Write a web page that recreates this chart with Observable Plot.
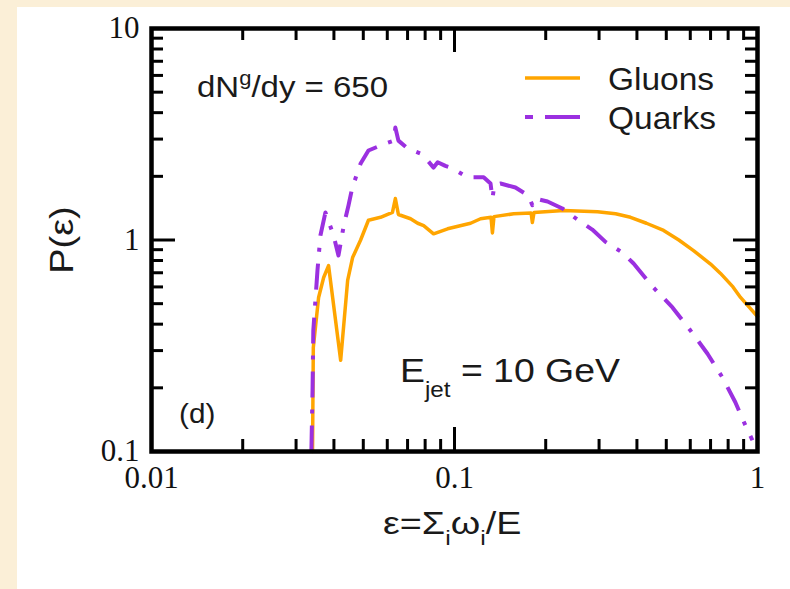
<!DOCTYPE html>
<html>
<head>
<meta charset="utf-8">
<script src="https://cdn.jsdelivr.net/npm/d3@7"></script>
<script src="https://cdn.jsdelivr.net/npm/@observablehq/plot@0.6"></script>
<style>
  html, body { margin: 0; padding: 0; background: #fbefd7; width: 790px; height: 589px; overflow: hidden; }
  #chart { position: absolute; left: 17px; top: 7px; background: #ffffff; }
</style>
</head>
<body>
<div id="chart"></div>
<script>
// ---- data ----
const gluonEps = [0.0340, 0.0342, 0.0356, 0.0370, 0.0384, 0.0421, 0.0444, 0.0461, 0.0490, 0.0520, 0.0570, 0.0624, 0.0638, 0.0653, 0.0716, 0.0756, 0.0791, 0.0853, 0.0949, 0.1130, 0.1219, 0.1320, 0.1334, 0.1350, 0.1568, 0.1790, 0.1807, 0.1830, 0.2291, 0.2965, 0.340, 0.381, 0.430, 0.490, 0.550, 0.615, 0.700, 0.755, 0.830, 0.879, 0.940, 1.0];
const gluonP   = [0.100, 0.310, 0.535, 0.665, 0.757, 0.270, 0.644, 0.826, 1.00, 1.24, 1.28, 1.35, 1.57, 1.32, 1.26, 1.20, 1.17, 1.07, 1.13, 1.20, 1.26, 1.28, 1.08, 1.29, 1.33, 1.34, 1.21, 1.35, 1.38, 1.36, 1.33, 1.28, 1.20, 1.11, 1.00, 0.891, 0.770, 0.695, 0.600, 0.535, 0.480, 0.435];

const quarkEps = [0.0337, 0.0340, 0.0342, 0.0353, 0.0361, 0.0375, 0.0399, 0.0414, 0.0431, 0.0447, 0.0460, 0.0490, 0.0520, 0.0592, 0.0630, 0.0638, 0.0653, 0.0700, 0.0783, 0.0853, 0.0880, 0.0933, 0.0986, 0.1104, 0.1248, 0.1315, 0.1334, 0.1354, 0.1419, 0.1589, 0.1754, 0.1807, 0.1848, 0.2028, 0.2270, 0.2564, 0.2849, 0.315, 0.358, 0.390, 0.450, 0.524, 0.601, 0.684, 0.766, 0.845, 0.912, 0.962];
const quarkP   = [0.100, 0.194, 0.373, 0.718, 1.05, 1.35, 1.05, 0.845, 1.17, 1.46, 1.77, 2.30, 2.65, 2.86, 2.95, 3.40, 2.95, 2.71, 2.54, 2.20, 2.33, 2.24, 2.18, 1.98, 1.98, 1.85, 1.57, 1.82, 1.85, 1.77, 1.62, 1.46, 1.57, 1.52, 1.41, 1.24, 1.12, 0.98, 0.873, 0.774, 0.603, 0.480, 0.373, 0.290, 0.224, 0.171, 0.133, 0.113];

const seriesNames = ["Gluons", "Quarks"];
const xTickValues = [0.01, 0.1, 1];
const xTickLabels = ["0.01", "0.1", "1"];
const yTickValues = [0.1, 1, 10];
const yTickLabels = ["0.1", "1", "10"];
const xMajorTicks = [0.1];
const xMinorTicks = [0.02, 0.03, 0.04, 0.05, 0.06, 0.07, 0.08, 0.09, 0.2, 0.3, 0.4, 0.5, 0.6, 0.7, 0.8, 0.9];
const yMajorTicks = [1];
const yMinorTicks = [0.2, 0.3, 0.4, 0.5, 0.6, 0.7, 0.8, 0.9, 2, 3, 4, 5, 6, 7, 8, 9];

// ---- build tables ----
const gluons = gluonEps.map((e, i) => ({eps: e, p: gluonP[i]}));
const quarks = quarkEps.map((e, i) => ({eps: e, p: quarkP[i]}));

const W = 773, H = 582;
const mL = 134, mR = 33, mT = 21, mB = 138;
const innerW = W - mL - mR, innerH = H - mT - mB;
const minorLen = 12, majorLen = 24;
const gluonColor = "#ffa500", quarkColor = "#9b30e0";
const quarkDash = "26,12,4,12";

const plot = Plot.plot({
  width: W, height: H,
  marginLeft: mL, marginRight: mR, marginTop: mT, marginBottom: mB,
  style: {background: "#ffffff", overflow: "visible"},
  x: {type: "log", domain: [0.01, 1], axis: null},
  y: {type: "log", domain: [0.1, 10], axis: null},
  marks: [
    Plot.line(gluons, {x: "eps", y: "p", stroke: gluonColor, strokeWidth: 3.5, strokeLinejoin: "round"}),
    Plot.line(quarks, {x: "eps", y: "p", stroke: quarkColor, strokeWidth: 4, strokeDasharray: quarkDash, strokeLinecap: "butt"}),
    // inward ticks, bottom & top
    Plot.tickX(xMinorTicks, {x: d => d, insetTop: innerH - minorLen, stroke: "#000", strokeWidth: 3}),
    Plot.tickX(xMinorTicks, {x: d => d, insetBottom: innerH - minorLen, stroke: "#000", strokeWidth: 3}),
    Plot.tickX(xMajorTicks, {x: d => d, insetTop: innerH - majorLen, stroke: "#000", strokeWidth: 3}),
    Plot.tickX(xMajorTicks, {x: d => d, insetBottom: innerH - majorLen, stroke: "#000", strokeWidth: 3}),
    // inward ticks, left & right
    Plot.tickY(yMinorTicks, {y: d => d, insetRight: innerW - minorLen, stroke: "#000", strokeWidth: 3}),
    Plot.tickY(yMinorTicks, {y: d => d, insetLeft: innerW - minorLen, stroke: "#000", strokeWidth: 3}),
    Plot.tickY(yMajorTicks, {y: d => d, insetRight: innerW - majorLen, stroke: "#000", strokeWidth: 3}),
    Plot.tickY(yMajorTicks, {y: d => d, insetLeft: innerW - majorLen, stroke: "#000", strokeWidth: 3}),
    Plot.frame({stroke: "#000", strokeWidth: 4.5}),
    // tick labels
    Plot.text(xTickValues, {x: d => d, text: (d, i) => xTickLabels[i], frameAnchor: "bottom", dy: 27, lineAnchor: "middle",
      fontFamily: "Liberation Serif", fontSize: 31, fill: "#111"}),
    Plot.text(yTickValues, {y: d => d, text: (d, i) => yTickLabels[i], frameAnchor: "left", dx: -12, textAnchor: "end", lineAnchor: "middle",
      fontFamily: "Liberation Serif", fontSize: 31, fill: "#111"})
  ]
});

document.getElementById("chart").appendChild(plot);

// ---- annotations, axis titles and legend ----
const svg = d3.select(plot);
const sans = "Liberation Sans, Arial, sans-serif";
const ink = "#1a1a1a";

// helper: a text group positioned at (x,y) and stretched horizontally like the reference
function label(x, y, sx, size, rotate = 0) {
  return svg.append("g")
    .attr("transform", `translate(${x},${y}) rotate(${rotate}) scale(${sx},1)`)
    .append("text")
    .attr("text-anchor", "start")
    .attr("font-family", sans).attr("font-size", size).attr("fill", ink);
}

// y-axis title
label(45, 233, 1.15, 33, -90)
  .attr("text-anchor", "middle").attr("dominant-baseline", "central")
  .text("P(ε)");

// x-axis title  ε=Σ_i ω_i /E
{
  const t = label(366, 527, 1.18, 32);
  t.append("tspan").text("ε=Σ");
  t.append("tspan").attr("font-size", 21).attr("dy", 11).text("i");
  t.append("tspan").attr("dy", -11).text("ω");
  t.append("tspan").attr("font-size", 21).attr("dy", 11).text("i");
  t.append("tspan").attr("dy", -11).text("/E");
}

// dN^g/dy = 650
{
  const t = label(180, 90, 1.1, 30);
  t.append("tspan").text("dN");
  t.append("tspan").attr("font-size", 20).attr("dy", -12).text("g");
  t.append("tspan").attr("dy", 12).text("/dy = 650");
}

// E_jet = 10 GeV
{
  const t = label(383, 375, 1.1, 34);
  t.append("tspan").text("E");
  t.append("tspan").attr("font-size", 22).attr("dy", 15).text("jet");
  t.append("tspan").attr("dy", -15).text(" = 10 GeV");
}

// (d)
label(162, 416, 1.1, 27).text("(d)");

// legend
const legend = [
  {name: seriesNames[0], color: gluonColor, dash: null, y: 71, width: 3.5},
  {name: seriesNames[1], color: quarkColor, dash: "8,12,27,0", y: 110, width: 4}
];
legend.forEach(l => {
  const ln = svg.append("line")
    .attr("x1", 508).attr("x2", 563).attr("y1", l.y).attr("y2", l.y)
    .attr("stroke", l.color).attr("stroke-width", l.width);
  if (l.dash) ln.attr("stroke-dasharray", l.dash);
  label(591, l.y + 12, 1.08, 31).text(l.name);
});
</script>
</body>
</html>
